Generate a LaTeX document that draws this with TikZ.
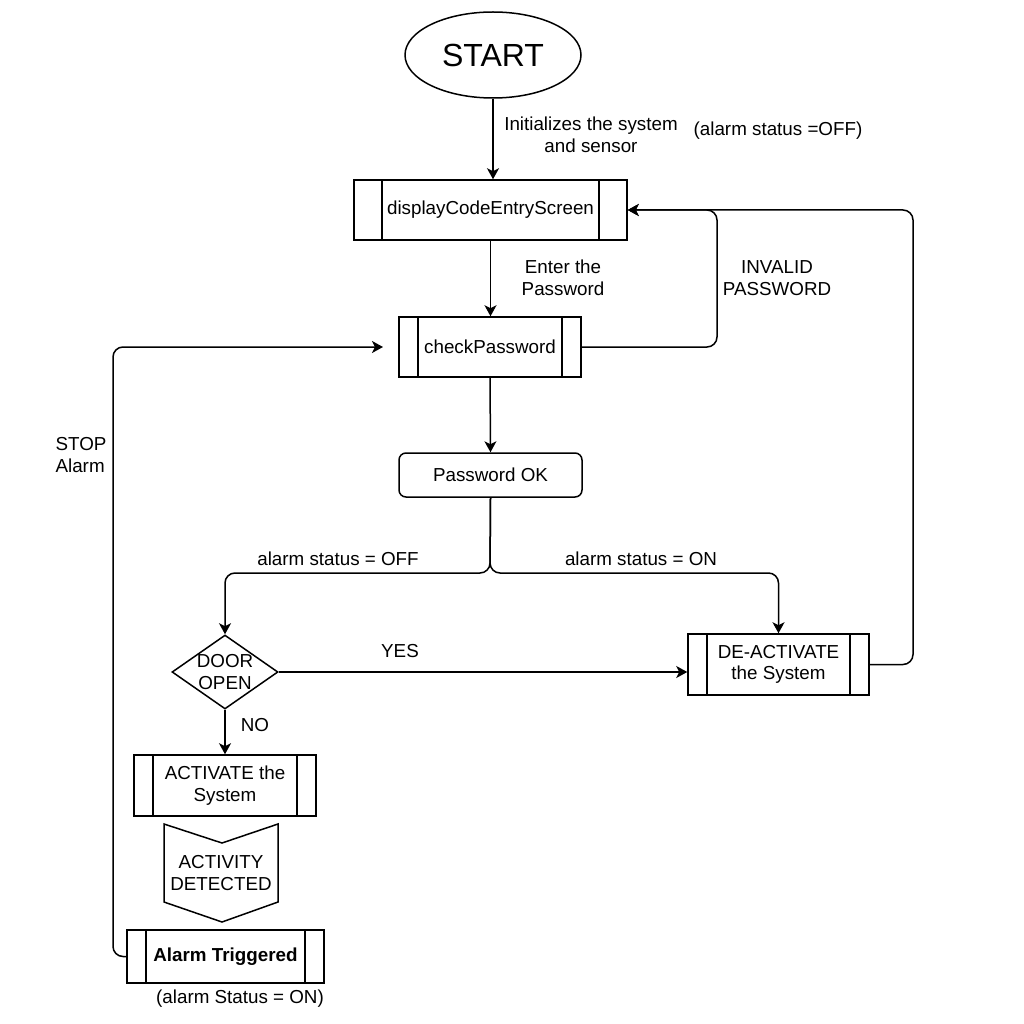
\documentclass[tikz,border=0pt]{standalone}
\usepackage{fontspec}
\setmainfont{Liberation Sans}
\usetikzlibrary{arrows.meta,shapes.geometric,calc}
\tikzset{
  subproc/.style={draw, inner sep=0pt, align=center, path picture={
    \draw ([xshift=#1]path picture bounding box.north west) -- ([xshift=#1]path picture bounding box.south west);
    \draw ([xshift=-#1]path picture bounding box.north east) -- ([xshift=-#1]path picture bounding box.south east);}},
  arr/.style={-{Stealth[length=11pt,width=12pt,inset=3pt]}, rounded corners=10pt},
  lbl/.style={align=center, inner sep=0pt},
}
\begin{document}
\begin{tikzpicture}[x=1pt,y=-1pt, font=\fontsize{18.8}{21.5}\selectfont, line width=1.5pt]
\useasboundingbox[fill=white] (0,0) rectangle (1024,1024);

\node[draw, ellipse, minimum width=176pt, minimum height=86pt, inner sep=0pt, font=\fontsize{32}{36}\selectfont] (start) at (493,55) {START};
\node[subproc=28pt, minimum width=273pt, minimum height=60pt] (disp) at (490.5,210) {displayCodeEntryScreen};
\node[subproc=19pt, minimum width=182pt, minimum height=60pt] (check) at (490,347) {checkPassword};
\node[draw, rounded corners=7pt, minimum width=183pt, minimum height=44pt, inner sep=0pt] (ok) at (490.5,475) {Password OK};
\node[draw, diamond, minimum width=106pt, minimum height=74pt, inner sep=0pt] (door) at (225,672) {};
\node[lbl] (doortxt) at (door) {DOOR\\OPEN};
\node[subproc=19pt, minimum width=181pt, minimum height=61pt] (deact) at (778.5,664.5) {DE-ACTIVATE\\the System};
\node[subproc=19pt, minimum width=182pt, minimum height=61pt] (act) at (225,785.5) {ACTIVATE the\\System};
\draw (164,824) coordinate (p1) -- (222,843) coordinate (p2) -- (278,824) coordinate (p3) -- (278,902) coordinate (p4) -- (222,922) coordinate (p5) -- (164,902) coordinate (p6) -- cycle;
\node[lbl] (det) at (221,873) {ACTIVITY\\DETECTED};
\node[subproc=19pt, minimum width=197pt, minimum height=53pt, font=\fontsize{18.8}{21.5}\selectfont\bfseries] (alarm) at (225.5,956.5) {Alarm Triggered};

\coordinate (stopend) at (383,347);

% connectors
\draw[arr] (start.south) -- (start.south |- disp.north);
\draw[arr] (disp.south) -- (disp.south |- check.north);
\draw[arr] (check.east) -| (717,210) -- (disp.east);
\draw[arr] (check.south) -- (ok.north);
\draw[arr] (ok.south) -- (490,573) -| (door.north);
\draw[arr] (ok.south) -- (490,573) -| (deact.north);
\draw[arr] (door.east) -- (door.east -| deact.west);
\draw[arr] (deact.east) -| (913,210) -- (disp.east);
\draw[arr] (door.south) -- (door.south |- act.north);
\draw[arr] (alarm.west) -| (113,347) -- (stopend);

% labels
\node[lbl] at (591,135) {Initializes the system\\and sensor};
\node[lbl] at (778,131) {(alarm status =OFF)};
\node[lbl] at (563,278) {Enter the\\Password};
\node[lbl] at (777,278) {INVALID\\PASSWORD};
\node[lbl] at (338,559) {alarm status = OFF};
\node[lbl] at (641,559) {alarm status = ON};
\node[lbl] at (400,651) {YES};
\node[lbl] at (255,725) {NO};
\node[lbl, align=left] at (81,455) {STOP\\Alarm};
\node[lbl] at (240,999) {(alarm Status = ON)};
\end{tikzpicture}
\end{document}
